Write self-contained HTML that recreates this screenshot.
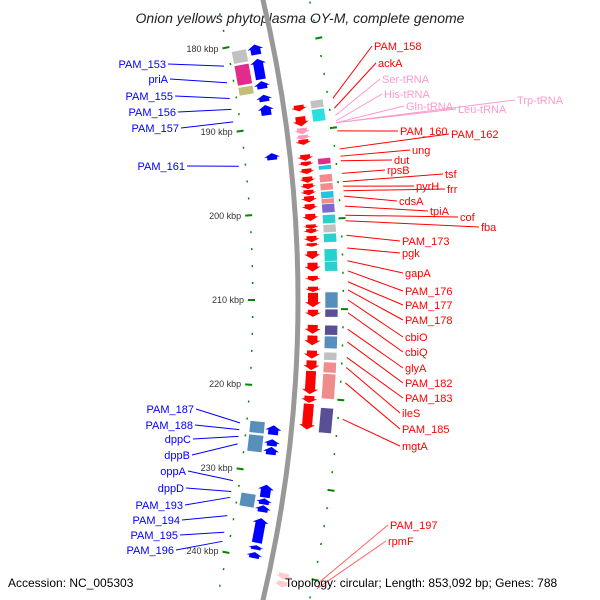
<!DOCTYPE html>
<html><head><meta charset="utf-8"><style>
html,body{margin:0;background:#fff;overflow:hidden;width:600px;height:600px}
svg{display:block;font-family:"Liberation Sans",sans-serif;overflow:hidden}
</style></head><body>
<svg id="map" width="600" height="600" viewBox="0 0 600 600" xmlns="http://www.w3.org/2000/svg">
<defs>
<linearGradient id="bb" x1="0" x2="1" y1="0" y2="0"><stop offset="0" stop-color="#bbb"/><stop offset="0.5" stop-color="#777"/><stop offset="1" stop-color="#999"/></linearGradient>
</defs>
<text x="300" y="23" text-anchor="middle" font-size="14" font-style="italic" fill="#222">Onion yellows phytoplasma OY-M, complete genome</text>
<g id="g"></g>
<text x="8" y="587" font-size="12" fill="#000">Accession: NC_005303</text>
<text x="285" y="587" font-size="12" fill="#000">Topology: circular; Length: 853,092 bp; Genes: 788</text>
</svg>
<script>
// ---- data ----
const revArrows=[[188.0,188.7,'#f00'],[189.3,190.4,'#f00'],[190.6,191.3,'#f9b'],[191.4,191.9,'#f9b'],[191.9,192.5,'#f00'],[193.6,194.3,'#f00'],[194.4,194.9,'#f00'],[195.2,195.8,'#f00'],[196.1,196.8,'#f00'],[196.9,197.5,'#f00'],[197.6,198.2,'#f00'],[198.3,199.0,'#f00'],[199.2,199.9,'#f00'],[200.3,201.1,'#f00'],[201.5,202.0,'#f00'],[202.0,202.5,'#f00'],[202.8,203.5,'#f00'],[203.6,204.0,'#f00'],[204.5,205.4,'#f00'],[205.8,206.8,'#f00'],[207.3,207.9,'#f00'],[208.5,209.1,'#f00'],[209.2,210.8,'#f00'],[211.1,211.9,'#f00'],[212.8,213.8,'#f00'],[214.0,215.1,'#f00'],[215.7,216.6,'#f00'],[216.8,217.9,'#f00'],[218.0,220.6,'#f00'],[220.8,221.6,'#f00'],[221.7,224.6,'#f00'],[241.0,241.7,'#fcc'],[241.9,242.6,'#fcc']];
const revBoxes=[[187.7,188.6,'#bbb'],[188.7,190.1,'#1dd'],[194.2,194.9,'#e0157f'],[195.0,195.5,'#1bd'],[196.0,196.9,'#f08080'],[197.0,197.8,'#f08080'],[197.9,198.7,'#1bd'],[198.7,199.3,'#f08080'],[199.3,200.3,'#6a5acd'],[200.5,201.5,'#1cc'],[201.6,202.5,'#bbb'],[202.6,203.6,'#1cc'],[204.3,205.7,'#1cc'],[205.7,206.8,'#1cc'],[209.1,210.9,'#4682b4'],[211.0,211.9,'#483d8b'],[212.8,213.9,'#483d8b'],[214.0,215.4,'#4682b4'],[215.8,216.7,'#bbb'],[216.9,218.1,'#f08080'],[218.2,221.0,'#f08080'],[222.0,224.8,'#483d8b']];
const fwdArrows=[[180.3,181.5],[182.0,184.4],[184.6,185.5],[186.2,187.0],[187.4,188.6],[193.0,193.8],[224.5,225.6],[226.1,226.9],[227.0,227.9],[231.4,232.9],[233.0,233.7],[233.8,234.6],[235.3,238.2],[238.5,239.0],[239.3,240.0]];
const fwdBoxes=[[180.6,182.1,'#bbb'],[182.3,184.7,'#e0157f'],[184.9,185.9,'#bdb76b'],[224.2,225.6,'#4682b4'],[225.8,227.8,'#4682b4'],[232.7,234.3,'#4682b4']];
const rightLabels=['PAM_158','ackA','Ser-tRNA','His-tRNA','Gln-tRNA','Leu-tRNA','Trp-tRNA','PAM_160','PAM_162','ung','dut','rpsB','tsf','pyrH','frr','cdsA','tpiA','cof','fba','PAM_173','pgk','gapA','PAM_176','PAM_177','PAM_178','cbiO','cbiQ','glyA','PAM_182','PAM_183','ileS','PAM_185','mgtA','PAM_197','rpmF'];
const rightLabelX=[374,378,382,384,406,458,517,400,451,412,394,387,445,416,447,399,430,460,481,402,402,405,405,405,405,405,405,405,405,405,402,402,402,390,388];
const rightLabelY=[50,67,83,98,110,113,104,135,138,154,164,174,178,190,193,205,215,221,231,245,257,277,295,309,324,341,356,372,387,402,417,433,450,529,545];
const rightTargetKb=[187.8,188.9,189.7,190.3,190.5,190.5,190.5,191.4,193.4,194.2,194.7,196.1,197.0,197.5,198.0,198.6,199.7,200.7,201.3,202.9,204.3,205.7,206.8,208.0,208.9,210.0,211.4,213.2,214.6,216.3,217.4,219.1,223.1,241.3,241.9];
const leftLabels=['PAM_153','priA','PAM_155','PAM_156','PAM_157','PAM_161','PAM_187','PAM_188','dppC','dppB','oppA','dppD','PAM_193','PAM_194','PAM_195','PAM_196'];
const leftLabelX=[166,168,173,176,179,185,194,193,191,190,186,184,183,180,178,174];
const leftLabelY=[68,83,100,116,132,170,413,429,443,459,475,492,509,524,539,554];
const leftTargetKb=[182.1,184.1,186.0,187.3,188.8,194.1,224.6,225.4,226.2,227.1,231.5,232.8,233.5,235.7,237.7,238.8];
const tickLabels=['180 kbp','190 kbp','200 kbp','210 kbp','220 kbp','230 kbp','240 kbp'];
const tickKb=[180,190,200,210,220,230,240];

// ---- geometry ----
const CX=-1005,CY=300,R=1303,K=0.00674;
function P(kb,off){const t=(kb-210)*K;return [CX+(R+off)*Math.cos(t),CY+(R+off)*Math.sin(t)];}
const NS='http://www.w3.org/2000/svg',G=document.getElementById('g');
function mk(tag,at){const e=document.createElementNS(NS,tag);for(const k in at)e.setAttribute(k,at[k]);G.appendChild(e);return e;}
function pts(a){return a.map(p=>p[0].toFixed(1)+','+p[1].toFixed(1)).join(' ');}

// backbone
let bb=mk('circle',{cx:CX,cy:CY,r:R,fill:'none',stroke:'url(#bb)','stroke-width':5});



// ticks every 2 kbp
for(let kb=174;kb<=246;kb+=2){
  const major=kb%10===0;
  const a=P(kb,major?-50:-46),b=P(kb,major?-43:-44.5);
  let t=mk('line',{x1:a[0],y1:a[1],x2:b[0],y2:b[1],stroke:'#080','stroke-width':2});
  
  
  const c=P(kb+1,major?43:44.5),d=P(kb+1,major?50:46);
  let u=mk('line',{x1:c[0],y1:c[1],x2:d[0],y2:d[1],stroke:'#080','stroke-width':2});
  
  
}
tickLabels.forEach((s,i)=>{const p=P(tickKb[i],-54);
  let t=mk('text',{x:p[0],y:p[1]+3,'text-anchor':'end','font-size':9,fill:'#333'});t.textContent=s;
  
  });

// label lines + text
rightLabels.forEach((s,i)=>{
  const tRNA=s.indexOf('tRNA')>0, col=tRNA?'#f9c':'#f00', faint=i>=33;
  const p=P(rightTargetKb[i],50);
  let l=mk('line',{x1:p[0],y1:p[1],x2:rightLabelX[i]-2,y2:rightLabelY[i]-4,stroke:faint?'#f66':col,'stroke-width':1});
  
  
  let t=mk('text',{x:rightLabelX[i],y:rightLabelY[i],'font-size':11,fill:col});t.textContent=s;
  
  
});
leftLabels.forEach((s,i)=>{
  const p=P(leftTargetKb[i],-52);
  let l=mk('line',{x1:p[0],y1:p[1],x2:leftLabelX[i]+2,y2:leftLabelY[i]-4,stroke:'#00f','stroke-width':1});
  
  
  let t=mk('text',{x:leftLabelX[i],y:leftLabelY[i],'font-size':11,fill:'#00f','text-anchor':'end'});t.textContent=s;
  
  
});

// boxes
function box(a,b,o1,o2,col){return mk('polygon',{points:pts([P(a,o1),P(b,o1),P(b,o2),P(a,o2)]),fill:col,stroke:'#fff','stroke-width':0.6,opacity:0.9});}
revBoxes.forEach(d=>{let e=box(d[0],d[1],27,40,d[2]);
  
  });
fwdBoxes.forEach(d=>{let e=box(d[0],d[1],-42,-27,d[2]);
  
  });

// arrows
function arrow(a,b,o1,o2,dir,col){
  const len=b-a, h=Math.min(0.55,len*0.6);
  let q;
  if(dir>0){const m=b-h; q=[P(a,o1+2),P(m,o1+2),P(m,o1-1),P(b,(o1+o2)/2),P(m,o2+1),P(m,o2-2),P(a,o2-2)];}
  else{const m=a+h; q=[P(b,o1+2),P(m,o1+2),P(m,o1-1),P(a,(o1+o2)/2),P(m,o2+1),P(m,o2-2),P(b,o2-2)];}
  return mk('polygon',{points:pts(q),fill:col});
}
revArrows.forEach(d=>{let e=arrow(d[0],d[1],8,22,1,d[2]);
  
  });
fwdArrows.forEach(d=>{let e=arrow(d[0],d[1],-25,-11,-1,'#00f');
  
  });
</script>
</body></html>
